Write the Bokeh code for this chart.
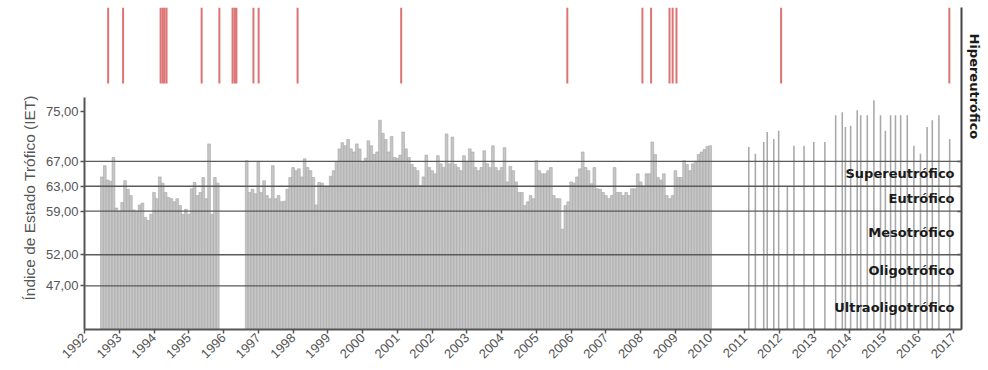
import math
from bokeh.plotting import figure
from bokeh.models import LinearAxis, FixedTicker, Span, Title, ColumnDataSource, Range1d
from bokeh.embed import file_html
from bokeh.resources import INLINE
from bokeh.core.properties import value

# ---------------- data ----------------
# monthly IET, first series (starts Jul 1992)
start_a = 1992.5
iet_a = [64.5, 66.3, 64.0, 63.8, 67.6, 59.5, 59.0, 60.4, 63.9, 62.5,
         61.5, 59.2, 59.0, 60.0, 60.3, 58.0, 57.5, 58.5, 62.0, 61.0,
         64.5, 63.5, 62.0, 61.2, 61.0, 60.5, 61.0, 59.9, 58.5, 59.3,
         58.5, 62.6, 63.6, 61.5, 62.0, 64.4, 61.0, 69.8, 58.5, 64.4,
         63.5]

# monthly IET, second series (starts Sep 1996)
start_b = 1996 + 8 / 12
iet_b = [67.1, 62.0, 62.5, 61.8, 67.0, 62.0, 63.9, 61.5, 61.0, 66.3,
         61.0, 61.5, 60.5, 60.6, 62.5, 64.4, 66.0, 65.5, 65.8, 64.5,
         67.4, 66.0, 65.5, 64.4, 60.0, 63.6, 63.5, 63.0, 62.8, 64.6,
         65.5, 67.0, 69.0, 70.0, 69.5, 70.5, 69.0, 68.5, 69.8, 69.0,
         66.8, 67.5, 70.3, 69.5, 68.1, 68.5, 73.6, 71.5, 70.5, 68.5,
         71.0, 67.6, 67.5, 68.0, 71.7, 69.0, 67.6, 66.5, 66.0, 65.5,
         63.1, 64.5, 68.0, 66.0, 65.5, 65.0, 67.9, 66.6, 66.0, 71.4,
         66.6, 70.9, 66.5, 66.0, 65.5, 67.9, 67.0, 69.0, 68.5, 66.0,
         65.5, 66.0, 68.7, 66.6, 66.0, 69.5, 66.0, 65.5, 66.0, 69.2,
         63.7, 66.2, 65.5, 63.7, 62.0, 62.0, 59.9, 60.5, 61.5, 61.0,
         67.1, 65.5, 65.0, 65.0, 65.5, 66.0, 61.5, 61.0, 61.0, 56.1,
         59.9, 60.5, 63.7, 63.5, 64.5, 65.8, 68.5, 66.0, 65.5, 63.4,
         66.0, 62.6, 62.5, 62.0, 61.5, 61.0, 61.5, 66.0, 62.0, 62.0,
         61.5, 62.0, 61.5, 62.6, 62.6, 65.0, 63.7, 63.0, 65.0, 65.0,
         70.1, 68.1, 64.4, 64.0, 65.0, 61.5, 61.0, 61.5, 65.5, 64.4,
         64.4, 67.1, 66.5, 65.5, 66.6, 67.0, 68.1, 68.5, 68.9, 69.4,
         69.5]

# sparse samples 2011-2017
years_c = [2011.11, 2011.30, 2011.54, 2011.64, 2011.83, 2011.97, 2012.22,
           2012.41, 2012.70, 2012.98, 2013.30, 2013.61, 2013.80, 2013.89,
           2014.04, 2014.23, 2014.33, 2014.52, 2014.71, 2014.90, 2015.04,
           2015.19, 2015.33, 2015.48, 2015.67, 2015.86, 2016.05, 2016.24,
           2016.39, 2016.58, 2016.89]
iet_c = [69.3, 68.2, 70.1, 71.7, 70.6, 71.9, 63.0,
         69.5, 69.5, 70.1, 70.1, 74.4, 74.9, 72.5,
         72.7, 75.2, 74.4, 74.4, 76.8, 74.4, 71.9,
         74.4, 74.4, 74.4, 74.4, 69.5, 68.2, 72.5,
         73.6, 74.4, 70.6]

# hypereutrophic events (top strip)
events = [1992.68, 1993.11, 1994.19, 1994.25, 1994.30, 1994.36, 1995.37,
          1995.88, 1996.26, 1996.32, 1996.37, 1996.86, 1997.01, 1998.13,
          2001.11, 2005.89, 2008.05, 2008.30, 2008.83, 2008.92, 2009.03,
          2012.04, 2016.88]

ytick_values = [47, 52, 59, 63, 67, 75]
ytick_labels = ["47,00", "52,00", "59,00", "63,00", "67,00", "75,00"]
class_names = ["Supereutrófico", "Eutrófico", "Mesotrófico", "Oligotrófico", "Ultraoligotrófico"]
class_bounds = [67, 63, 59, 52, 47, 40]
year_ticks = list(range(1992, 2018))

# ---------------- figure ----------------
Y0, Y1 = 40, 91.7
X0, X1 = 1992, 2017.23

p = figure(width=988, height=368, output_backend="svg", toolbar_location=None,
           x_range=Range1d(X0, X1), y_range=Range1d(Y0, Y1),
           min_border_left=84, min_border_right=25, min_border_top=7,
           min_border_bottom=39, background_fill_color="white",
           border_fill_color="white")
p.outline_line_color = None
p.grid.visible = False

xa = [start_a + i / 12 for i in range(len(iet_a))]
xb = [start_b + i / 12 for i in range(len(iet_b))]

p.vbar(x=xa, top=iet_a, bottom=Y0, width=0.95 / 12,
       fill_color="#c6c6c6", line_color="#a6a6a6", line_width=0.6)
p.vbar(x=xb, top=iet_b, bottom=Y0, width=0.95 / 12,
       fill_color="#c6c6c6", line_color="#a6a6a6", line_width=0.6)
p.vbar(x=years_c, top=iet_c, bottom=Y0, width=0.045,
       fill_color="#a9a9a9", line_color=None)

# event lines in upper strip
p.segment(x0=events, x1=events, y0=79.5, y1=Y1,
          line_color="#d65c5c", line_width=2, line_alpha=0.85)

# class boundary lines
for b in class_bounds[:-1]:
    p.add_layout(Span(location=b, dimension="width", line_color="#5a5a5a",
                      line_width=1.4))

# class labels (right side)
mids = [(class_bounds[i] + class_bounds[i + 1]) / 2 for i in range(len(class_names))]
src = ColumnDataSource(dict(x=[2017.03] * len(class_names), y=mids, t=class_names))
p.text(x="x", y="y", text="t", source=src, text_align="right",
       text_baseline="middle", text_font=value("DejaVu Sans"),
       text_font_style="bold", text_font_size="13px", text_color="#1a1a1a")

# left axis
ya = p.yaxis[0]
ya.ticker = FixedTicker(ticks=ytick_values)
ya.major_label_overrides = {v: l for v, l in zip(ytick_values, ytick_labels)}
ya.bounds = (Y0, 77.25)
ya.axis_line_color = "#555555"
ya.axis_line_width = 2
ya.major_tick_line_color = "#555555"
ya.major_tick_line_width = 1.5
ya.major_tick_out = 4
ya.major_tick_in = 0
ya.minor_tick_line_color = None
ya.major_label_text_font = "Liberation Sans"
ya.major_label_text_font_size = "13px"
ya.major_label_text_color = "#555555"
ya.major_label_standoff = 2

# bottom axis
xax = p.xaxis[0]
xax.ticker = FixedTicker(ticks=year_ticks)
xax.axis_line_color = "#555555"
xax.axis_line_width = 2
xax.major_tick_line_color = "#555555"
xax.major_tick_line_width = 1.5
xax.major_tick_out = 4
xax.major_tick_in = 0
xax.minor_tick_line_color = None
xax.major_label_orientation = math.pi / 4
xax.major_label_text_font = "Liberation Sans"
xax.major_label_text_font_size = "13px"
xax.major_label_text_color = "#555555"
xax.major_label_standoff = 2

# right axis (class brackets)
ra = LinearAxis(ticker=FixedTicker(ticks=class_bounds[:-1]))
ra.major_label_overrides = {v: "" for v in class_bounds[:-1]}
ra.axis_line_color = "#444444"
ra.axis_line_width = 2
ra.major_tick_line_color = "#444444"
ra.major_tick_line_width = 1.5
ra.major_tick_in = 4
ra.major_tick_out = 0
ra.minor_tick_line_color = None
ra.major_label_standoff = 0
ra.axis_label_standoff = 0
p.add_layout(ra, "right")

# side titles
p.add_layout(Title(text="Hipereutrófico", align="left", offset=26,
                   text_font="DejaVu Sans", text_font_style="bold",
                   text_font_size="13px", text_color="#1a1a1a", standoff=10), "right")
p.add_layout(Title(text="Índice de Estado Trófico (IET)", align="left", offset=29,
                   text_font="Liberation Sans", text_font_style="normal",
                   text_font_size="15.5px", text_color="#555555", standoff=9), "left")

open("out.html", "w").write(file_html(p, INLINE))
